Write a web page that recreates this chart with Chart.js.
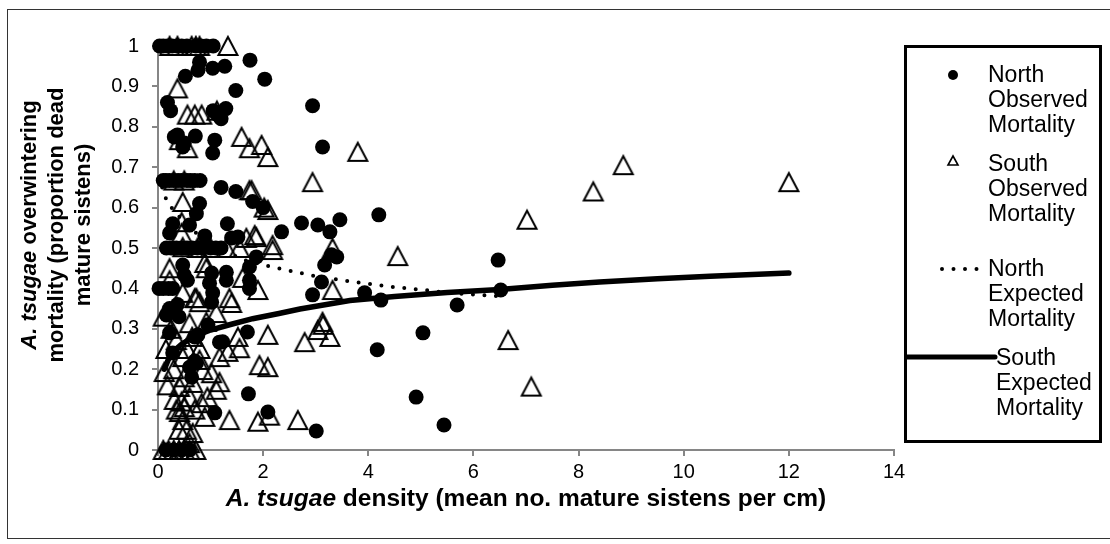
<!DOCTYPE html>
<html>
<head>
<meta charset="utf-8">
<script src="https://cdn.jsdelivr.net/npm/chart.js@4.4.1/dist/chart.umd.min.js"></script>
<style>
  html, body { margin: 0; padding: 0; background: #fff; }
  #wrap { position: relative; width: 1110px; height: 544px; overflow: hidden; font-family: 'Liberation Sans', Arial, sans-serif; }
  #frame { position: absolute; left: 7px; top: 9px; width: 1110px; height: 530px; border: 1px solid #333; box-sizing: border-box; pointer-events: none; }
  .title { position: absolute; font-weight: bold; color: #000; white-space: nowrap; }
  #xTitle { left: 526px; top: 498px; font-size: 24.5px; transform: translate(-50%, -50%); }
  #yTitle { left: 55px; top: 225px; font-size: 22px; line-height: 27px; text-align: center; transform: translate(-50%, -50%) rotate(-90deg); }
  #legend { position: absolute; left: 904px; top: 45px; width: 198px; height: 398px; border: 3px solid #000; box-sizing: border-box; }
  .item { position: absolute; left: 988px; font-size: 23px; line-height: 25px; color: #000; }
  .mark { position: absolute; }
</style>
</head>
<body>
<div id="wrap">
  <canvas id="chart" width="1110" height="544"></canvas>
  <div id="frame"></div>
  <div class="title" id="xTitle"><i>A. tsugae</i> density (mean no. mature sistens per cm)</div>
  <div class="title" id="yTitle"><i>A. tsugae</i> overwintering<br>mortality (proportion dead<br>mature sistens)</div>
  <div id="legend"></div>
  <svg class="mark" style="left:945px;top:67px" width="16" height="16"><circle cx="8" cy="8" r="5" fill="#000"/></svg>
  <div class="item" style="top:62px">North<br>Observed<br>Mortality</div>
  <svg class="mark" style="left:945px;top:153px" width="16" height="16"><polygon points="8,3 13,12 3,12" fill="none" stroke="#000" stroke-width="1.6"/></svg>
  <div class="item" style="top:151px">South<br>Observed<br>Mortality</div>
  <svg class="mark" style="left:938px;top:261px" width="50" height="16"><line x1="4" y1="8" x2="44" y2="8" stroke="#000" stroke-width="4" stroke-linecap="round" stroke-dasharray="0 11.5"/></svg>
  <div class="item" style="top:256px">North<br>Expected<br>Mortality</div>
  <svg class="mark" style="left:905px;top:349px" width="95" height="16"><line x1="0" y1="8" x2="90" y2="8" stroke="#000" stroke-width="5" stroke-linecap="round"/></svg>
  <div class="item" style="top:345px;left:996px">South<br>Expected<br>Mortality</div>
</div>
<script>
// North observed mortality (filled circles)
const northX = [
  0.03, 0.1, 0.18, 0.27, 0.36, 0.45, 0.55, 0.72, 0.82, 0.92, 1.05,
  1.75, 1.27, 1.04, 0.79, 0.76, 0.52, 2.03, 1.48, 0.18, 0.24, 2.94, 1.29, 1.13, 1.2, 1.05,
  0.31, 0.37, 0.71, 0.47, 0.5, 3.13, 1.08, 1.04,
  0.1, 0.15, 0.22, 0.3, 0.38, 0.45, 0.55, 0.62, 0.7, 0.8,
  1.2, 1.48, 1.8, 2.0, 0.79, 0.73, 0.28, 0.22, 0.6, 1.32, 0.89, 1.4, 1.52,
  0.16, 0.25, 0.35, 0.45, 0.55, 0.65, 0.75, 0.85, 1.0, 1.1, 1.2,
  1.87, 1.74, 0.47, 0.5, 1.02, 1.3,
  0.02, 0.1, 0.2, 0.28, 0.56, 0.98, 1.3, 1.74, 1.74, 1.04, 0.22, 0.37, 1.02,
  2.73, 3.04, 3.27, 3.46, 2.35, 3.3, 3.4, 3.17, 3.11, 2.94, 4.2, 6.47, 3.93, 4.24,
  5.69, 6.52, 5.04, 4.17, 4.91, 5.44, 3.01,
  1.7, 0.22, 0.76, 1.17, 0.28, 0.73, 0.64, 1.72, 1.08, 2.09, 0.16, 0.7, 0.7, 0.6,
  1.23, 0.95, 0.4,
  0.15, 0.3, 0.45, 0.6
];
const northY = [
  1, 1, 1, 1, 1, 1, 1, 1, 1, 1, 1,
  0.965, 0.95, 0.945, 0.96, 0.94, 0.925, 0.918, 0.89, 0.86, 0.84, 0.852, 0.845, 0.83, 0.82, 0.84,
  0.775, 0.78, 0.777, 0.75, 0.76, 0.75, 0.767, 0.735,
  0.667, 0.667, 0.667, 0.667, 0.667, 0.667, 0.667, 0.667, 0.667, 0.667,
  0.65, 0.64, 0.615, 0.6, 0.61, 0.585, 0.56, 0.537, 0.557, 0.56, 0.53, 0.525, 0.527,
  0.5, 0.5, 0.5, 0.5, 0.5, 0.5, 0.5, 0.5, 0.5, 0.5, 0.5,
  0.478, 0.453, 0.458, 0.433, 0.438, 0.44,
  0.4, 0.4, 0.4, 0.4, 0.42, 0.413, 0.42, 0.42, 0.4, 0.389, 0.35, 0.36, 0.366,
  0.562, 0.557, 0.54, 0.57, 0.54, 0.483, 0.478, 0.458, 0.416, 0.384, 0.582, 0.47, 0.389, 0.371,
  0.359, 0.396, 0.29, 0.248, 0.131, 0.062, 0.047,
  0.292, 0.29, 0.285, 0.267, 0.24, 0.215, 0.18, 0.139, 0.092, 0.094, 0.334, 0.28, 0.22, 0.205,
  0.268, 0.31, 0.33,
  0, 0, 0, 0
];

// South observed mortality (open triangles)
const southX = [
  0.22, 0.37, 0.64, 0.72, 0.79, 1.33,
  0.37, 0.56, 0.7, 0.83, 1.12,
  1.59, 1.74, 1.97, 2.09, 0.41, 0.56,
  3.8, 2.94, 8.28, 7.02, 4.56, 3.32, 3.32, 8.85, 12.0, 6.66, 7.1, 3.14, 3.04, 3.27, 2.79,
  2.09, 1.52, 1.55, 1.33, 1.17, 1.93, 2.09, 1.36, 1.9, 2.12, 2.66, 0.89, 0.66, 0.6,
  0.12, 0.18, 0.31, 0.41, 0.47, 0.54, 0.85, 1.02, 1.17, 1.11, 0.94, 0.83, 0.6, 0.5, 0.41,
  0.66, 0.79, 0.47, 0.35, 0.6, 0.92,
  1.78, 2.02, 0.47, 0.45, 0.45, 0.47, 1.68, 1.87, 2.18, 0.89, 0.22, 0.22, 0.47, 0.7,
  0.79, 1.36, 1.61, 1.9,
  1.74, 2.09, 1.84, 2.18, 3.13, 0.92, 1.4, 1.11, 0.73,
  0.25, 0.3, 0.55, 0.65, 0.4, 0.45, 0.7, 0.15, 0.1, 0.8, 0.5, 0.35,
  0.1, 0.2, 0.3, 0.4, 0.5, 0.6, 0.72,
  0.3, 0.5, 0.75, 1.0, 1.3, 1.55
];
const southY = [
  1, 1, 1, 1, 1, 1,
  0.895, 0.83, 0.83, 0.83, 0.84,
  0.775, 0.747, 0.755, 0.725, 0.767, 0.747,
  0.738, 0.663, 0.64, 0.57, 0.48, 0.5, 0.396, 0.705, 0.663, 0.272, 0.157, 0.31, 0.297, 0.28, 0.267,
  0.285, 0.28, 0.252, 0.243, 0.23, 0.21, 0.205, 0.074, 0.07, 0.085, 0.074, 0.082, 0.042, 0.017,
  0.193, 0.16, 0.124, 0.094, 0.074, 0.05, 0.198, 0.19, 0.168, 0.149, 0.131, 0.116, 0.131, 0.106, 0.156,
  0.166, 0.223, 0.23, 0.272, 0.314, 0.317,
  0.643, 0.6, 0.614, 0.564, 0.537, 0.502, 0.525, 0.527, 0.507, 0.463, 0.45, 0.42, 0.389, 0.376,
  0.366, 0.376, 0.426, 0.396,
  0.643, 0.594, 0.532, 0.495, 0.317, 0.45, 0.364, 0.339, 0.376,
  0.3, 0.2, 0.25, 0.28, 0.05, 0.12, 0.1, 0.25, 0.33, 0.25, 0.18, 0.1,
  0, 0, 0, 0, 0, 0, 0,
  0.667, 0.667, 0.5, 0.5, 0.5, 0.5
];

// Expected mortality curves
const northExpX = [0.08, 0.12, 0.22, 0.35, 0.5, 0.7, 1.0, 1.3, 1.65, 2.07, 2.5, 3.0, 3.6, 4.1, 4.5, 5.0, 5.6, 6.1, 6.6];
const northExpY = [0.65, 0.63, 0.606, 0.585, 0.565, 0.54, 0.51, 0.49, 0.47, 0.456, 0.444, 0.43, 0.418, 0.41, 0.403, 0.397, 0.388, 0.384, 0.38];
const southExpX = [0.12, 0.2, 0.3, 0.45, 0.7, 1.0, 1.36, 1.8, 2.3, 2.7, 3.65, 4.5, 5.5, 6.5, 7.5, 8.4, 9.5, 10.5, 12.0];
const southExpY = [0.2, 0.225, 0.245, 0.262, 0.282, 0.297, 0.31, 0.325, 0.338, 0.349, 0.37, 0.38, 0.39, 0.397, 0.408, 0.416, 0.424, 0.43, 0.438];

const xTicks = [0, 2, 4, 6, 8, 10, 12, 14];
const yTicks = [0, 0.1, 0.2, 0.3, 0.4, 0.5, 0.6, 0.7, 0.8, 0.9, 1];

const pts = (xs, ys) => xs.map((x, i) => ({ x: x, y: ys[i] }));
const axisGrey = '#868686';
const tickFont = { family: "'Liberation Sans', Arial, sans-serif", size: 20 };

// open triangle marker, a bit wider than equilateral like the original
const tri = document.createElement('canvas');
tri.width = 24;
tri.height = 24;
const tctx = tri.getContext('2d');
tctx.strokeStyle = '#000';
tctx.lineWidth = 2;
tctx.lineJoin = 'miter';
tctx.beginPath();
tctx.moveTo(12, 3);
tctx.lineTo(21.5, 21);
tctx.lineTo(2.5, 21);
tctx.closePath();
tctx.stroke();

new Chart(document.getElementById('chart'), {
  type: 'scatter',
  data: {
    datasets: [
      {
        label: 'South Expected Mortality',
        data: pts(southExpX, southExpY),
        showLine: true,
        borderColor: '#000',
        borderWidth: 5.5,
        borderCapStyle: 'round',
        pointRadius: 0,
        order: 0,
        clip: false
      },
      {
        label: 'North Expected Mortality',
        data: pts(northExpX, northExpY),
        showLine: true,
        borderColor: '#000',
        borderWidth: 4,
        borderCapStyle: 'round',
        borderDash: [0, 11.5],
        pointRadius: 0,
        order: 1,
        clip: false
      },
      {
        label: 'South Observed Mortality',
        data: pts(southX, southY),
        pointStyle: tri,
        pointRadius: 10,
        order: 2,
        clip: false
      },
      {
        label: 'North Observed Mortality',
        data: pts(northX, northY),
        pointStyle: 'circle',
        pointRadius: 7.5,
        backgroundColor: '#000',
        borderColor: '#000',
        borderWidth: 0,
        order: 3,
        clip: false
      }
    ]
  },
  options: {
    responsive: false,
    animation: false,
    layout: { padding: { left: 108, right: 216, top: 46, bottom: 0 } },
    plugins: {
      legend: { display: false },
      tooltip: { enabled: false }
    },
    scales: {
      x: {
        type: 'linear',
        min: 0,
        max: 14,
        afterFit: (scale) => { scale.height = 94; },
        afterBuildTicks: (scale) => { scale.ticks = xTicks.map(v => ({ value: v })); },
        ticks: { color: '#000', font: tickFont, padding: 4, maxRotation: 0 },
        grid: { drawOnChartArea: false, color: axisGrey, lineWidth: 2, tickLength: 6 },
        border: { color: axisGrey, width: 2 }
      },
      y: {
        type: 'linear',
        min: 0,
        max: 1,
        afterFit: (scale) => { scale.width = 50; },
        afterBuildTicks: (scale) => { scale.ticks = yTicks.map(v => ({ value: v })); },
        ticks: {
          color: '#000',
          font: tickFont,
          padding: 13,
          callback: (v) => String(Math.round(v * 10) / 10)
        },
        grid: { drawOnChartArea: false, color: axisGrey, lineWidth: 2, tickLength: 6 },
        border: { color: axisGrey, width: 2 }
      }
    }
  }
});
</script>
</body>
</html>
